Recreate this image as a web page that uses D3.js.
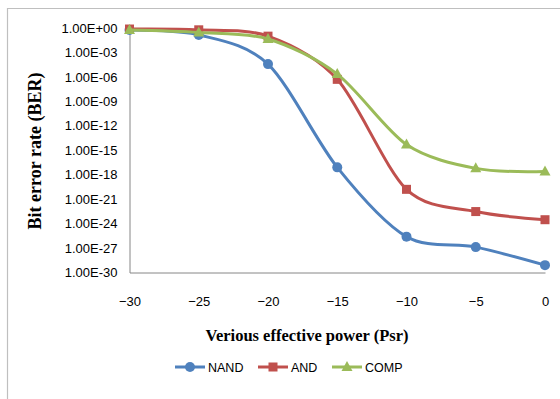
<!DOCTYPE html>
<html>
<head>
<meta charset="utf-8">
<script src="https://cdn.jsdelivr.net/npm/d3@7"></script>
<style>
  html, body { margin: 0; padding: 0; background: #fff; }
  svg { display: block; }
</style>
</head>
<body>
<svg id="chart" width="560" height="399"></svg>
<script>
// ---- data ----
const powers = [-30, -25, -20, -15, -10, -5, 0];
const nandBER = [5.6e-1, 1.4e-1, 3.7e-5, 8e-18, 2.5e-26, 1.3e-27, 8e-30];
const andBER  = [7.5e-1, 6e-1, 1e-1, 5e-7, 1.6e-20, 3e-23, 3e-24];
const compBER = [5.6e-1, 2.8e-1, 4.5e-2, 2.2e-6, 5e-15, 6e-18, 2.5e-18];
const seriesNames = ["NAND", "AND", "COMP"];
const yTickExponents = [0, -3, -6, -9, -12, -15, -18, -21, -24, -27, -30];
const xTicks = [-30, -25, -20, -15, -10, -5, 0];

const colors = { NAND: "#4F81BD", AND: "#C0504D", COMP: "#9BBB59" };
const series = [
  { name: "NAND", values: nandBER, marker: "circle" },
  { name: "AND", values: andBER, marker: "square" },
  { name: "COMP", values: compBER, marker: "triangle" }
];

const svg = d3.select("#chart");

// outer chart border (top and left visible)
svg.append("path")
  .attr("d", "M7.5,399 L7.5,8.5 L560,8.5")
  .attr("fill", "none").attr("stroke", "#bfbfbf").attr("stroke-width", 1.2);

const x = d3.scaleLinear().domain([-30, 0]).range([129.5, 545]);
const y = d3.scaleLog().domain([1, 1e-30]).range([28, 272.5]);

const tickFont = "'Liberation Sans', Arial, sans-serif";

// y axis
const yAxis = d3.axisLeft(y)
  .tickValues(yTickExponents.map(e => Math.pow(10, e)))
  .tickSize(0).tickPadding(12)
  .tickFormat(v => {
    const e = Math.round(Math.log10(v));
    const s = e >= 0 ? "+" + String(e).padStart(2, "0") : "-" + String(-e).padStart(2, "0");
    return "1.00E" + s;
  });
const gy = svg.append("g").attr("transform", `translate(${x(-30)},0)`).call(yAxis);
gy.select(".domain").attr("stroke", "#868686").attr("stroke-width", 1);
gy.selectAll("text").attr("font-family", tickFont).attr("font-size", 13).attr("fill", "#000");

// x axis
const xAxis = d3.axisBottom(x).tickValues(xTicks).tickSize(0).tickPadding(24).tickFormat(d3.format("d"));
const gx = svg.append("g").attr("transform", `translate(0,${y(1e-30)})`).call(xAxis);
gx.select(".domain").attr("stroke", "#868686").attr("stroke-width", 1);
gx.selectAll("text").attr("font-family", tickFont).attr("font-size", 13).attr("fill", "#000");

// axis titles
const titleFont = "'Liberation Serif', 'Times New Roman', serif";
svg.append("text")
  .attr("x", 307).attr("y", 341)
  .attr("text-anchor", "middle")
  .attr("font-family", titleFont).attr("font-weight", "bold").attr("font-size", 16.5)
  .text("Verious effective power (Psr)");
svg.append("text")
  .attr("transform", "translate(41,151) rotate(-90)")
  .attr("text-anchor", "middle")
  .attr("font-family", titleFont).attr("font-weight", "bold").attr("font-size", 18)
  .text("Bit error rate (BER)");

// lines
const line = d3.line()
  .x((d, i) => x(powers[i]))
  .y(d => y(d))
  .curve(d3.curveCardinal.tension(0.1));

function drawMarker(g, type, color, cx, cy) {
  if (type === "circle") {
    g.append("circle").attr("cx", cx).attr("cy", cy).attr("r", 5).attr("fill", color);
  } else if (type === "square") {
    g.append("rect").attr("x", cx - 4.5).attr("y", cy - 4.5).attr("width", 9).attr("height", 9).attr("fill", color);
  } else {
    g.append("path").attr("d", `M${cx},${cy - 6} L${cx + 5.5},${cy + 4} L${cx - 5.5},${cy + 4} Z`).attr("fill", color);
  }
}

series.forEach(s => {
  const c = colors[s.name];
  svg.append("path").datum(s.values)
    .attr("d", line).attr("fill", "none")
    .attr("stroke", c).attr("stroke-width", 3).attr("stroke-linejoin", "round").attr("stroke-linecap", "round");
  const g = svg.append("g");
  s.values.forEach((v, i) => drawMarker(g, s.marker, c, x(powers[i]), y(v)));
});

// legend
const legendX = [175, 258, 332];
const legendY = 367;
series.forEach((s, i) => {
  const c = colors[s.name];
  const lx = legendX[i];
  const g = svg.append("g");
  g.append("line").attr("x1", lx).attr("x2", lx + 30).attr("y1", legendY).attr("y2", legendY)
    .attr("stroke", c).attr("stroke-width", 3);
  drawMarker(g, s.marker, c, lx + 15, legendY);
  g.append("text").attr("x", lx + 33).attr("y", legendY + 4.5)
    .attr("font-family", tickFont).attr("font-size", 12.5).attr("fill", "#000")
    .text(s.name);
});
</script>
</body>
</html>
